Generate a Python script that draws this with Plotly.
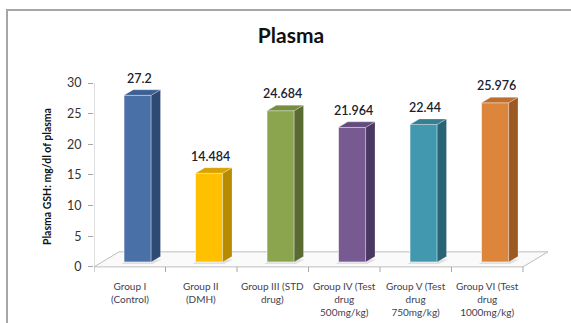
import plotly.graph_objects as go

# Plasma GSH levels per treatment group
groups = [
    "Group I<br>(Control)",
    "Group II<br>(DMH)",
    "Group III (STD<br>drug)",
    "Group IV (Test<br>drug<br>500mg/kg)",
    "Group V (Test<br>drug<br>750mg/kg)",
    "Group VI (Test<br>drug<br>1000mg/kg)",
]
values = [27.2, 14.484, 24.684, 21.964, 22.44, 25.976]
value_labels = ["27.2", "14.484", "24.684", "21.964", "22.44", "25.976"]
y_ticks = [0, 5, 10, 15, 20, 25, 30]

front_colors = ["#4A70A8", "#FFC000", "#8BA54E", "#775A91", "#4299AF", "#DD853A"]
side_colors = ["#2E4A72", "#B88A00", "#5A6B32", "#4B3862", "#2A6374", "#9C5A22"]
top_colors = ["#3D5F92", "#D9A300", "#758E40", "#634B7C", "#367F92", "#BE6F2C"]

W, H = 571, 323
L, R, T, B = 94, 23, 83, 50
X_RANGE = [-0.5, 5.85]
Y_RANGE = [-1, 30]
plot_w = W - L - R
plot_h = H - T - B

def px_x(px):
    return (px - L) / plot_w

def px_y(py):
    return (H - B - py) / plot_h

# 3D box geometry (axis units)
BASE = 0.8          # bars stand a little behind the floor front edge
BAR_OFF = -0.08     # left edge of front face relative to category centre
BAR_W = 0.38
DX, DY = 0.13, 0.9  # depth offset for side/top faces
FLOOR_DX, FLOOR_DY = 0.35, 2.45

fig = go.Figure()

shapes = []

# chart frame
shapes.append(dict(type="rect", xref="paper", yref="paper",
                   x0=px_x(7), x1=px_x(W + 20), y0=px_y(10), y1=px_y(H + 20),
                   line=dict(color="#A6A6A6", width=2), fillcolor="rgba(0,0,0,0)",
                   layer="below"))

# floor
shapes.append(dict(type="path", xref="x", yref="y",
                   path=f"M -0.5 0 L 5.5 0 L {5.5 + FLOOR_DX} {FLOOR_DY} L {-0.5 + FLOOR_DX} {FLOOR_DY} Z",
                   line=dict(color="#BDBDBD", width=1), fillcolor="#FAFAFA", layer="below"))

# y axis line and category boundary ticks
shapes.append(dict(type="line", xref="x", yref="y", x0=-0.5, x1=-0.5, y0=0, y1=30,
                   line=dict(color="#BFBFBF", width=1), layer="below"))
for k in range(len(groups) + 1):
    xb = -0.5 + k
    shapes.append(dict(type="line", xref="x", yref="y", x0=xb, x1=xb, y0=0, y1=-0.85,
                       line=dict(color="#A6A6A6", width=1)))

for i, v in enumerate(values):
    xl = i + BAR_OFF
    xr = xl + BAR_W
    top = BASE + v
    # soft shadow under each bar
    shapes.append(dict(type="path", xref="x", yref="y",
                       path=f"M {xl - 0.04} {BASE - 0.35} L {xr + 0.02} {BASE - 0.35} "
                            f"L {xr + DX + 0.02} {BASE + 0.4} L {xl + 0.06} {BASE + 0.4} Z",
                       line=dict(width=0), fillcolor="rgba(0,0,0,0.10)", layer="below"))
    # side face
    shapes.append(dict(type="path", xref="x", yref="y",
                       path=f"M {xr} {BASE} L {xr + DX} {BASE + DY} L {xr + DX} {top + DY} L {xr} {top} Z",
                       line=dict(color="rgba(255,255,255,0.35)", width=0.6), fillcolor=side_colors[i]))
    # top face
    shapes.append(dict(type="path", xref="x", yref="y",
                       path=f"M {xl} {top} L {xl + DX} {top + DY} L {xr + DX} {top + DY} L {xr} {top} Z",
                       line=dict(color="rgba(255,255,255,0.45)", width=0.6), fillcolor=top_colors[i]))

fig.add_trace(go.Bar(
    x=list(range(len(groups))),
    y=values,
    base=BASE,
    offset=BAR_OFF,
    width=BAR_W,
    marker=dict(color=front_colors, line=dict(color="rgba(255,255,255,0.55)", width=1)),
    hoverinfo="skip",
    showlegend=False,
))

annotations = []
for i, v in enumerate(values):
    annotations.append(dict(x=i + BAR_OFF + BAR_W / 2 + 0.02, y=BASE + v + DY, xref="x", yref="y",
                            text=value_labels[i], showarrow=False, yanchor="bottom", yshift=2,
                            font=dict(family="Lato", size=12.5, color="#1A2030", weight=600)))
for i, g in enumerate(groups):
    annotations.append(dict(x=i, y=px_y(278), xref="x", yref="paper", text=g,
                            showarrow=False, yanchor="top", align="center",
                            font=dict(family="Lato", size=10, color="#3F4150")))
annotations.append(dict(x=px_x(47), y=px_y(177), xref="paper", yref="paper",
                        xanchor="center", yanchor="middle",
                        text="<b>Plasma GSH: mg/dl of plasma</b>", textangle=-90,
                        showarrow=False, font=dict(family="Lato", size=10.5, color="#111111")))

fig.update_layout(
    width=W, height=H,
    margin=dict(l=L, r=R, t=T, b=B, pad=0),
    paper_bgcolor="white", plot_bgcolor="rgba(0,0,0,0)",
    title=dict(text="<b>Plasma</b>", x=291 / W, xanchor="center", y=1 - 36 / H, yanchor="middle",
               font=dict(family="Lato", size=21, color="#111111")),
    xaxis=dict(range=X_RANGE, showgrid=False, zeroline=False, showline=False,
               showticklabels=False, ticks=""),
    yaxis=dict(range=Y_RANGE, tickvals=y_ticks, showgrid=False, zeroline=False, showline=False,
               ticks="outside", ticklen=5, tickcolor="#A6A6A6", ticklabelstandoff=4,
               tickfont=dict(family="Lato", size=12.5, color="#333333")),
    shapes=shapes,
    annotations=annotations,
)

fig.write_html("out.html")
